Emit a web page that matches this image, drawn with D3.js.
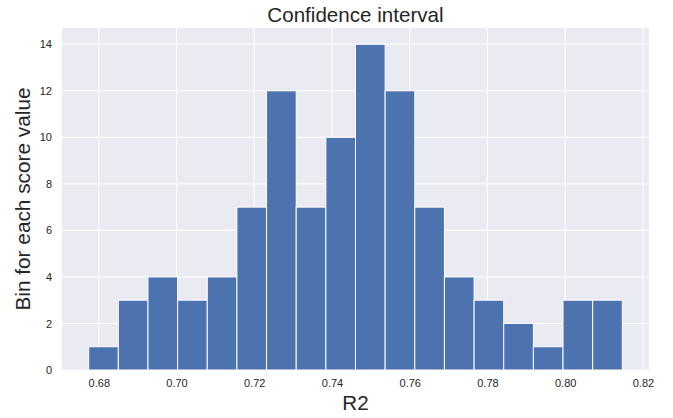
<!DOCTYPE html>
<html><head><meta charset="utf-8">
<script src="https://cdn.jsdelivr.net/npm/d3@7"></script>
<style>body{margin:0;background:#fff}svg{display:block}text{font-family:"Liberation Sans",Arial,sans-serif;fill:#262626}</style>
</head><body><svg id="c" width="673" height="418"></svg>
<script>
const counts = [1,3,4,3,4,7,12,7,10,14,12,7,4,3,2,1,3,3];
const binRange = [0.6774, 0.8147];
const xTicks = [0.68,0.70,0.72,0.74,0.76,0.78,0.80,0.82];
const yTicks = [0,2,4,6,8,10,12,14];
const title = "Confidence interval";
const xLabel = "R2";
const yLabel = "Bin for each score value";

const W=673,H=418;
const m={l:62,r:24,t:28,b:48};
const svg=d3.select("#c");
const bw=(binRange[1]-binRange[0])/counts.length;
const bins=counts.map((c,i)=>({x0:binRange[0]+i*bw,x1:binRange[0]+(i+1)*bw,c}));
const pad=(binRange[1]-binRange[0])*0.05;
const x=d3.scaleLinear().domain([binRange[0]-pad,binRange[1]+pad]).range([m.l,W-m.r]);
const ymax=d3.max(counts)*1.05;
const y=d3.scaleLinear().domain([0,ymax]).range([H-m.b,m.t]);

svg.append("rect").attr("x",m.l).attr("y",m.t).attr("width",W-m.r-m.l).attr("height",H-m.b-m.t).attr("fill","#eaeaf2");
const g=svg.append("g");
g.selectAll(".vx").data(xTicks).join("line").attr("x1",d=>x(d)).attr("x2",d=>x(d)).attr("y1",m.t).attr("y2",H-m.b).attr("stroke","#fff").attr("stroke-width",1.1);
g.selectAll(".hy").data(yTicks).join("line").attr("y1",d=>y(d)).attr("y2",d=>y(d)).attr("x1",m.l).attr("x2",W-m.r).attr("stroke","#fff").attr("stroke-width",1.1);

svg.append("g").selectAll("rect").data(bins).join("rect")
  .attr("x",d=>x(d.x0)).attr("width",d=>x(d.x1)-x(d.x0))
  .attr("y",d=>y(d.c)).attr("height",d=>y(0)-y(d.c))
  .attr("fill","#4c72b0").attr("stroke","#fff").attr("stroke-width",1);

const xa=svg.append("g").attr("transform",`translate(0,${H-m.b})`).call(d3.axisBottom(x).tickValues(xTicks).tickFormat(d3.format(".2f")).tickSize(0).tickPadding(9));
xa.select(".domain").remove();
xa.selectAll("text").attr("font-size",11).style("fill","#262626").attr("font-family","Liberation Sans, Arial, sans-serif");
const ya=svg.append("g").attr("transform",`translate(${m.l},0)`).call(d3.axisLeft(y).tickValues(yTicks).tickSize(0).tickPadding(10));
ya.select(".domain").remove();
ya.selectAll("text").attr("font-size",11).style("fill","#262626").attr("font-family","Liberation Sans, Arial, sans-serif");

svg.append("text").attr("x",(m.l+W-m.r)/2).attr("y",22).attr("text-anchor","middle").attr("font-size",20.6).text(title);
svg.append("text").attr("x",(m.l+W-m.r)/2).attr("y",410).attr("text-anchor","middle").attr("font-size",20.6).text(xLabel);
svg.append("text").attr("transform",`translate(30,${(m.t+H-m.b)/2}) rotate(-90)`).attr("text-anchor","middle").attr("font-size",20.8).text(yLabel);
</script></body></html>
